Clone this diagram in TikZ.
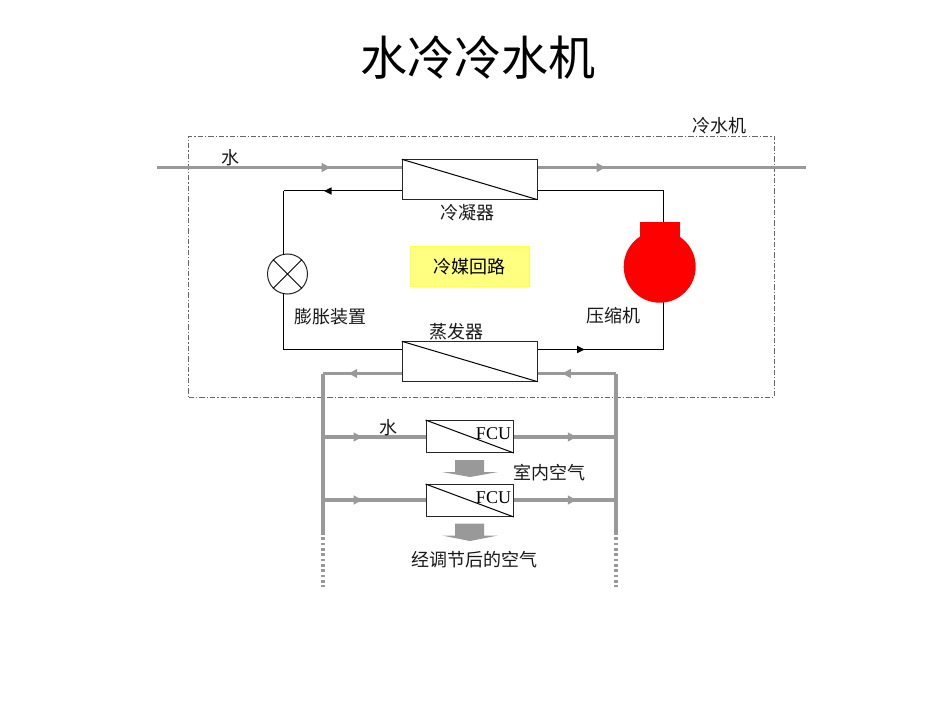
\documentclass[tikz,border=0pt]{standalone}
\usepackage{fontspec}
\setmainfont{Liberation Serif}
\newfontfamily\cjk{Noto Sans CJK SC}
\usetikzlibrary{arrows.meta,decorations.markings}
\definecolor{pipe}{HTML}{999999}
\definecolor{loopfill}{HTML}{FFFF80}
\definecolor{loopedge}{HTML}{FFFF4D}
\tikzset{
  x=0.75pt,y=-0.75pt,
  exch/.style={draw=black!85,line width=0.75pt,minimum width=101pt,minimum height=29.5pt,inner sep=0pt},
  fcubox/.style={draw=black!85,line width=0.75pt,minimum width=65.5pt,minimum height=24pt,inner sep=0pt},
  lbl/.style={font=\cjk\fontsize{13.5pt}{15pt}\selectfont,inner sep=0pt,text=black!90},
  fculbl/.style={font=\fontsize{13.5pt}{15pt}\selectfont,inner sep=0pt},
  refr/.style={draw=black,line width=0.75pt},
  water/.style={draw=pipe,line width=2.4pt},
  waterthin/.style={draw=pipe,line width=2.3pt},
  dotpipe/.style={draw=pipe,line width=2.4pt,dash pattern=on 2pt off 2pt},
  gmark/.style={postaction={decorate,decoration={markings,mark=at position #1 with {\fill[pipe] (3.2pt,0pt)--(-3.2pt,3.5pt)--(-3.2pt,-3.5pt)--cycle;}}}},
  bmark/.style={postaction={decorate,decoration={markings,mark=at position #1 with {\fill[black] (2.8pt,0pt)--(-2.8pt,2.8pt)--(-2.8pt,-2.8pt)--cycle;}}}},
}
\begin{document}
\begin{tikzpicture}
\useasboundingbox (0,0) rectangle (950,713);
\fill[white] (0,0) rectangle (950,713);
% title
\node[font=\cjk\fontsize{35.3pt}{38pt}\selectfont,inner sep=0pt] (title) at (478,58) {水冷冷水机};
% chiller frame
\node[draw=black!60,line width=0.6pt,dash pattern=on 4pt off 1.5pt on 1pt off 1.5pt,minimum width=439.5pt,minimum height=195.75pt,inner sep=0pt] (frame) at (481.5,266.5) {};
\node[lbl] (lchiller) at (719,125.5) {冷水机};
% exchangers
\node[exch] (cond) at (469.7,179.5) {};
\node[exch] (evap) at (469.7,361.5) {};
\draw[line width=0.75pt] (cond.north west) -- (cond.south east);
\draw[line width=0.75pt] (evap.north west) -- (evap.south east);
\node[lbl] (lcond) at (467.5,212.5) {冷凝器};
\node[lbl] (levap) at (456.5,331.5) {蒸发器};
% loop label
\node[draw=loopedge,fill=loopfill,line width=0.75pt,minimum width=89pt,minimum height=30.5pt,inner sep=0pt,font=\cjk\fontsize{13.5pt}{15pt}\selectfont] (loop) at (469.7,266.5) {冷媒回路};
% expansion valve
\node[draw=black!85,fill=white,circle,line width=0.75pt,minimum size=30pt,inner sep=0pt] (valve) at (287.5,274) {};
\draw[line width=0.6pt] (valve.north west) -- (valve.south east);
\draw[line width=0.6pt] (valve.north east) -- (valve.south west);
\node[lbl] (lvalve) at (330.5,316.5) {膨胀装置};
% compressor
\coordinate (compTop) at (663.7,222.5);
\coordinate (compBot) at (663.7,300);
\coordinate (topR) at (663.7,191);
\coordinate (botR) at (663.7,349.5);
\coordinate (topL) at (283.7,191);
\coordinate (botL) at (283.7,349.5);
\coordinate (valveTop) at (283.7,255);
\coordinate (valveBot) at (283.7,293);
% refrigerant loop
\draw[refr] (cond.east |- topR) -- (topR) -- (compTop);
\draw[refr,bmark=0.343] (evap.east |- botR) -- (botR);
\draw[refr] (compBot) -- (botR);
\draw[refr,bmark=0.627] (cond.west |- topL) -- (topL);
\draw[refr] (topL) -- (valveTop);
\draw[refr] (valveBot) -- (botL) -- (evap.west |- botL);
\node[fill=red,circle,minimum size=54pt,inner sep=0pt] (comp) at (659.7,266.7) {};
\fill[red] (639.5,222.5) rectangle (680,246);
\node[lbl] (lcomp) at (613.5,316) {压缩机};
% condenser water
\coordinate (wL) at (157,167.5);
\coordinate (wR) at (806,167.5);
\coordinate (wGap) at (608,167.5);
\draw[water,gmark=0.69] (wL) -- (cond.west |- wL);
\draw[water,gmark=0.9] (cond.east |- wL) -- (wGap);
\draw[water] (wGap) -- (wR);
\node[lbl] (lw1) at (230,158) {水};
% chilled water mains
\coordinate (mainL) at (323,373.5);
\coordinate (mainR) at (616,373.5);
\coordinate (endL) at (323,532);
\coordinate (endR) at (616,532);
\coordinate (dotL) at (323,587);
\coordinate (dotR) at (616,587);
\draw[water,gmark=0.62] (evap.west |- mainL) -- (mainL);
\draw[water] (mainL) -- (endL);
\draw[water,gmark=0.63] (mainR) -- (evap.east |- mainR);
\draw[water] (mainR) -- (endR);
\draw[dotpipe] (endL) -- (dotL);
\draw[dotpipe] (endR) -- (dotR);
% FCU units
\node[fcubox] (fcua) at (469.7,436.5) {};
\node[fcubox] (fcub) at (469.7,500.5) {};
\draw[line width=0.75pt] (fcua.north west) -- (fcua.south east);
\draw[line width=0.75pt] (fcub.north west) -- (fcub.south east);
\node[fculbl] (fa) at (493.5,434) {FCU};
\node[fculbl] (fb) at (493.5,497.5) {FCU};
\coordinate (ba) at (323,437);
\coordinate (bb) at (323,500);
\coordinate (ca) at (616,437);
\coordinate (cb) at (616,500);
\draw[waterthin,gmark=0.34] (ba) -- (fcua.west |- ba);
\draw[waterthin,gmark=0.34] (bb) -- (fcub.west |- bb);
\draw[waterthin,gmark=0.57] (fcua.east |- ca) -- (ca);
\draw[waterthin,gmark=0.57] (fcub.east |- cb) -- (cb);
\node[lbl] (lw2) at (388,427.5) {水};
\node[lbl] (lroom) at (549,473) {室内空气};
\node[lbl] (lout) at (474.5,560) {经调节后的空气};
% air arrows
\fill[pipe] (455,460) -- (484,460) -- (484,472) -- (498,472) -- (470,477) -- (442,472) -- (455,472) -- cycle;
\fill[pipe] (455,523.5) -- (484,523.5) -- (484,535.5) -- (498,535.5) -- (470,541) -- (442,535.5) -- (455,535.5) -- cycle;
\end{tikzpicture}
\end{document}
